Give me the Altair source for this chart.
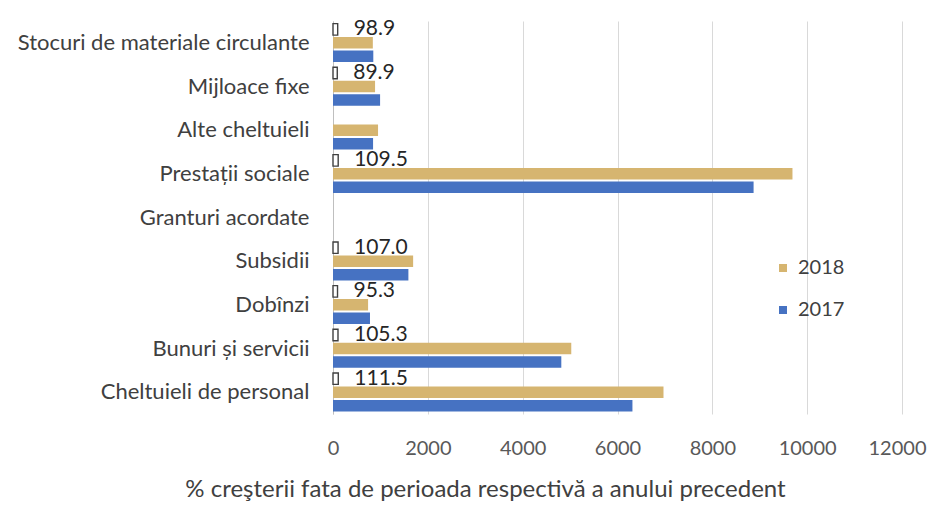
import altair as alt
import pandas as pd

categories = [
    "Stocuri de materiale circulante",
    "Mijloace fixe",
    "Alte cheltuieli ",
    "Prestații sociale",
    "Granturi acordate",
    "Subsidii",
    "Dobînzi ",
    "Bunuri și servicii",
    "Cheltuieli de personal",
]
val_2018 = [840, 887, 950, 9690, None, 1690, 740, 5025, 6970]
val_2017 = [850, 993, 845, 8870, None, 1590, 780, 4815, 6315]
growth = [98.9, 89.9, None, 109.5, None, 107.0, 95.3, 105.3, 111.5]
x_ticks = [0, 2000, 4000, 6000, 8000, 10000, 12000]
series_order = ["growth", "2018", "2017"]
legend_years = ["2018", "2017"]
year_colors = ["#D6B570", "#4672C2"]

rows = []
for i, c in enumerate(categories):
    rows.append({"cat": c, "series": "growth", "value": growth[i]})
    rows.append({"cat": c, "series": "2018", "value": val_2018[i]})
    rows.append({"cat": c, "series": "2017", "value": val_2017[i]})
df = pd.DataFrame(rows)

FONT = "Lato"

x_enc = alt.X(
    "value:Q",
    scale=alt.Scale(domain=[0, 12000], nice=False),
    axis=alt.Axis(
        values=x_ticks,
        format="d",
        grid=True,
        gridColor="#D9D9D9",
        domain=False,
        ticks=False,
        labelFlush=False,
        labelOverlap=False,
        labelAlign={"condition": {"test": "datum.value == 12000", "value": "right"}, "value": "center"},
        labelOffset={"condition": {"test": "datum.value == 12000", "value": 24}, "value": 0},
        labelFontSize=20,
        labelColor="#595959",
        labelFont=FONT,
        labelPadding=24,
        title="% creşterii fata de perioada respectivă a anului precedent",
        titleFont=FONT,
        titleFontSize=24,
        titleFontWeight="normal",
        titleColor="#404040",
        titleX=152,
        titleY=82,
        titleAlign="center",
        titleBaseline="alphabetic",
    ),
)
y_enc = alt.Y(
    "cat:N",
    sort=categories,
    scale=alt.Scale(domain=categories, paddingInner=0.12, paddingOuter=0.06),
    axis=alt.Axis(
        title=None,
        ticks=False,
        labelFontSize=22,
        labelColor="#404040",
        labelFont=FONT,
        labelPadding=24,
        labelLimit=400,
        domainColor="#BFBFBF",
        grid=False,
    ),
)
yoff_enc = alt.YOffset(
    "series:N",
    sort=series_order,
    scale=alt.Scale(domain=series_order, paddingInner=0.15),
)

base = alt.Chart(df).transform_filter("isValid(datum.value)")

year_bars = base.transform_filter("datum.series != 'growth'").mark_bar().encode(
    x=x_enc,
    y=y_enc,
    yOffset=yoff_enc,
    color=alt.Color(
        "series:N",
        scale=alt.Scale(domain=legend_years, range=year_colors),
        legend=alt.Legend(
            title=None,
            orient="none",
            legendX=440,
            legendY=237,
            symbolType="square",
            symbolSize=64,
            symbolStrokeWidth=0,
            labelFontSize=20,
            labelFont=FONT,
            labelColor="#404040",
            labelOffset=5,
            rowPadding=22,
        ),
    ),
)

growth_bars = base.transform_filter("datum.series == 'growth'").mark_bar(
    fill="#FFFFFF", stroke="#404040", strokeWidth=1.4
).encode(x=x_enc, y=y_enc, yOffset=yoff_enc)

growth_text = base.transform_filter("datum.series == 'growth'").mark_text(
    align="left", baseline="middle", dx=16, fontSize=21, font=FONT, color="#262626"
).encode(
    x=x_enc,
    y=y_enc,
    yOffset=yoff_enc,
    text=alt.Text("value:Q", format=".1f"),
)

chart = (
    alt.layer(year_bars, growth_bars, growth_text)
    .properties(
        width=569,
        height=393,
        autosize=alt.AutoSizeParams(type="none"),
        padding={"left": 325, "top": 13, "right": 25, "bottom": 88},
    )
    .configure_view(stroke=None)
)

chart.save("out.html", embed_options={"renderer": "svg", "actions": False})
